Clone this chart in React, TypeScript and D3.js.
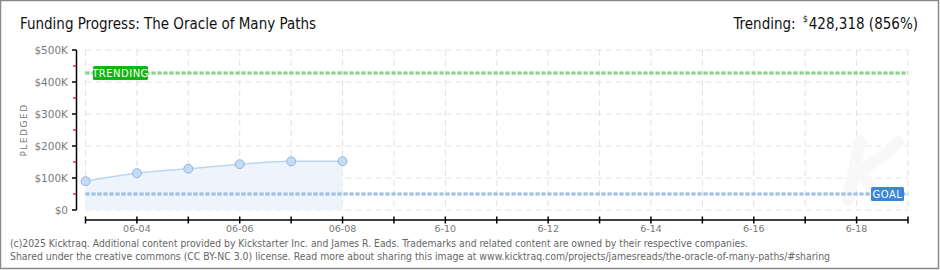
import React from "react";
import * as d3 from "d3";

const dates = ["2025-06-03", "2025-06-04", "2025-06-05", "2025-06-06", "2025-06-07", "2025-06-08"];
const pledged = [90000, 115000, 129000, 143000, 152000, 152500];
const axisStart = "2025-06-03";
const axisEnd = "2025-06-19";
const xTickLabels: [string, string][] = [
  ["2025-06-04", "06-04"],
  ["2025-06-06", "06-06"],
  ["2025-06-08", "06-08"],
  ["2025-06-10", "6-10"],
  ["2025-06-12", "6-12"],
  ["2025-06-14", "6-14"],
  ["2025-06-16", "6-16"],
  ["2025-06-18", "6-18"],
];
const yTicks = [0, 100000, 200000, 300000, 400000, 500000];
const yTickLabels = ["$0", "$100K", "$200K", "$300K", "$400K", "$500K"];
const yMinorTicks = [50000, 150000, 250000, 350000, 450000];
const goal = 50000;
const trending = 428318;
const title = "Funding Progress: The Oracle of Many Paths";
const footer1 =
  "(c)2025 Kicktraq. Additional content provided by Kickstarter Inc. and James R. Eads. Trademarks and related content are owned by their respective companies.";
const footer2 =
  "Shared under the creative commons (CC BY-NC 3.0) license. Read more about sharing this image at www.kicktraq.com/projects/jamesreads/the-oracle-of-many-paths/#sharing";

const W = 940;
const H = 270;
const FONT = "'DejaVu Sans', Verdana, sans-serif";
const COND = "'DejaVu Sans Condensed', 'DejaVu Sans', sans-serif";

export default function App() {
  const parse = d3.utcParse("%Y-%m-%d");
  const x = d3
    .scaleUtc()
    .domain([parse(axisStart)!, parse(axisEnd)!])
    .range([85.5, 908]);
  const y = d3.scaleLinear().domain([0, 500000]).range([210, 50]);
  const days = d3.utcDay.range(parse(axisStart)!, d3.utcDay.offset(parse(axisEnd)!, 1));
  const pts = dates.map((d, i) => ({ x: x(parse(d)!), y: y(pledged[i]) }));
  const line = d3
    .line<{ x: number; y: number }>()
    .x((d) => d.x)
    .y((d) => d.y)
    .curve(d3.curveMonotoneX);
  const area = d3
    .area<{ x: number; y: number }>()
    .x((d) => d.x)
    .y0(y(0))
    .y1((d) => d.y)
    .curve(d3.curveMonotoneX);

  const x0 = x.range()[0];
  const x1 = x.range()[1];
  const yT = y(trending);
  const yG = y(goal);

  return (
    <svg
      width={W}
      height={H}
      style={{ position: "absolute", left: 0, top: 0, background: "#fff" }}
      fontFamily={FONT}
    >
      <rect x={0.5} y={0.5} width={W - 2} height={H - 2} fill="#fff" stroke="#8a8a8a" strokeWidth={1.5} />
      {/* title */}
      <text x={20} y={29} fontSize={16} fontFamily={COND} fill="#111" textLength={296} lengthAdjust="spacingAndGlyphs">
        {title}
      </text>
      <text x={918} y={29} fontSize={15} fontFamily={COND} fill="#111" textAnchor="end">
        <tspan>Trending:</tspan>
        <tspan dx={7} dy={-7} fontSize={9}>$</tspan>
        <tspan dx={1} dy={7}>
          {d3.format(",")(trending)} ({Math.floor((trending / goal) * 100)}%)
        </tspan>
      </text>

      {/* grid */}
      {yTicks.map((t) => (
        <line key={"gy" + t} x1={x0} x2={x1} y1={y(t)} y2={y(t)} stroke="#e2e2e2" strokeDasharray="6 4" />
      ))}
      {days.map((d, i) => (
        <line key={"gx" + i} x1={x(d)} x2={x(d)} y1={y(500000)} y2={y(0)} stroke="#e2e2e2" strokeDasharray="6 4" />
      ))}

      {/* faint watermark */}
      <path
        d="M 860 142 L 848 200 M 898 142 C 880 160, 866 168, 858 172 C 868 180, 874 192, 876 200"
        fill="none"
        stroke="#f8f8f8"
        strokeWidth={12}
        strokeLinecap="round"
      />

      {/* area & line */}
      <path d={area(pts) || ""} fill="#edf4fc" />
      <path d={line(pts) || ""} fill="none" stroke="#bcd6f2" strokeWidth={1.5} />

      {/* goal line */}
      <line x1={x0} x2={x1} y1={yG} y2={yG} stroke="#8db4e2" strokeWidth={3} strokeDasharray="4 2" />
      <line x1={x0} x2={x1} y1={yG} y2={yG} stroke="#c3d8f2" strokeWidth={1} strokeDasharray="2 4" strokeDashoffset={-1} />
      <rect x={871} y={yG - 7} width={33} height={14} rx={1.5} fill="#3b86d6" />
      <text x={887.5} y={yG + 4} fontSize={10} fill="#fff" textAnchor="middle" fontFamily={FONT} letterSpacing={0.5}>
        GOAL
      </text>

      {/* trending line */}
      <line x1={x0} x2={x1} y1={yT} y2={yT} stroke="#73c873" strokeWidth={3} strokeDasharray="4 2" />
      <line x1={x0} x2={x1} y1={yT} y2={yT} stroke="#b8e4b8" strokeWidth={1} strokeDasharray="2 4" strokeDashoffset={-1} />
      <rect x={93} y={yT - 7} width={55} height={14} rx={1.5} fill="#14b414" />
      <text x={120.5} y={yT + 4} fontSize={10} fill="#fff" textAnchor="middle" fontFamily={FONT} letterSpacing={0.5}>
        TRENDING
      </text>

      {/* points */}
      {pts.map((p, i) => (
        <circle key={"p" + i} cx={p.x} cy={p.y} r={4.5} fill="#c4dbf6" stroke="#94b6de" strokeWidth={1} />
      ))}

      {/* y axis */}
      <line x1={76.5} x2={76.5} y1={y(500000)} y2={y(0)} stroke="#000" strokeWidth={1.5} />
      {yTicks.map((t, i) => (
        <g key={"yt" + t}>
          <line x1={72} x2={76.5} y1={y(t)} y2={y(t)} stroke="#000" strokeWidth={1.5} />
          <text x={68} y={y(t) + 4} fontSize={10.5} fill="#7a7a7a" textAnchor="end">
            {yTickLabels[i]}
          </text>
        </g>
      ))}
      {yMinorTicks.map((t) => (
        <line key={"ym" + t} x1={73} x2={76.5} y1={y(t)} y2={y(t)} stroke="#e00" strokeWidth={1.2} />
      ))}
      <text
        transform={`translate(27,${(y(0) + y(500000)) / 2}) rotate(-90)`}
        fontSize={9}
        fill="#777"
        textAnchor="middle"
        letterSpacing={1.5}
      >
        PLEDGED
      </text>

      {/* x axis */}
      <line x1={x0} x2={x1} y1={220} y2={220} stroke="#000" strokeWidth={1.5} />
      {days.map((d, i) => (
        <line key={"xt" + i} x1={x(d)} x2={x(d)} y1={216.5} y2={223.5} stroke="#000" strokeWidth={1.5} />
      ))}
      {xTickLabels.map(([d, l]) => (
        <text key={"xl" + d} x={x(parse(d)!)} y={232} fontSize={9.5} fill="#777" textAnchor="middle">
          {l}
        </text>
      ))}

      {/* footer */}
      <text x={10} y={247} fontSize={10} fill="#666" textLength={738} lengthAdjust="spacingAndGlyphs">
        {footer1}
      </text>
      <text x={10} y={260} fontSize={10} fill="#666" textLength={820} lengthAdjust="spacingAndGlyphs">
        {footer2}
      </text>
    </svg>
  );
}
